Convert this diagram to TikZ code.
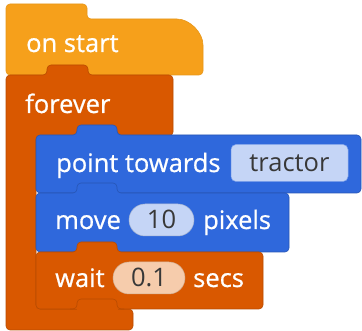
\documentclass[tikz,border=0pt]{standalone}
\usepackage{fontspec}
\setmainfont{Open Sans}
\newfontfamily\labelfont{Open Sans}[FakeBold=0.7]
\definecolor{hatorange}{HTML}{F6A01B}
\definecolor{loopred}{HTML}{D95800}
\definecolor{spriteblue}{HTML}{2F68DC}
\definecolor{fieldblue}{HTML}{C5D5F6}
\definecolor{fieldpeach}{HTML}{F6CCAC}
\definecolor{fieldtext}{HTML}{383838}
\usetikzlibrary{shapes.misc}
\tikzset{
  hatblock/.style={fill=hatorange, draw=hatorange!94!black, line width=0.6pt},
  loopblock/.style={fill=loopred, draw=loopred!85!black, line width=0.6pt},
  spriteblock/.style={fill=spriteblue, draw=spriteblue!82!black, line width=0.6pt},
  label/.style={inner sep=0pt, anchor=base west, text=white,
    font=\labelfont\fontsize{25.5}{30}\selectfont},
  field/.style={inner sep=0pt, text=fieldtext, text height=18pt, text depth=0pt,
    font=\fontsize{25.5}{30}\selectfont},
  dropfield/.style={field, fill=fieldblue, draw=spriteblue!60!white,
    line width=0.5pt, rounded corners=5pt},
  numpill/.style={field, rounded rectangle, fill=#1, draw=#1!85!black,
    line width=0.5pt},
}
% statement block: left x, top y, width, height (y grows downwards);
% the connector tab sits 41..81 from the left edge, 10 high
\newcommand\stmtblock[5]{%
  \filldraw[#5, rounded corners=4] (#1,#2+#4/2) -- (#1,#2) -- (#1+41,#2)
    -- (#1+41,#2-10) -- (#1+81,#2-10) -- (#1+81,#2) -- (#1+#3,#2)
    -- (#1+#3,#2+#4) -- (#1,#2+#4) -- cycle;}
\begin{document}
\begin{tikzpicture}[x=1pt, y=-1pt]
  \useasboundingbox (0,0) rectangle (362,331);

  % hat block "on start"
  \filldraw[hatblock, rounded corners=4] (6,40) -- (6,4) -- (87,4) -- (87,19)
    -- (173,19) arc[start angle=-90, end angle=0, radius=30]
    -- (203,75) -- (6,75) -- cycle;

  % C-shaped "forever" block
  \filldraw[loopblock, rounded corners=4] (6,200) -- (6,75) -- (47,75)
    -- (47,65) -- (88,65) -- (88,75) -- (173,75) -- (173,136) -- (36,136)
    -- (36,309) -- (133,309) -- (133,330) -- (6,330) -- cycle;

  % statements inside the loop
  \stmtblock{36}{135}{325}{58}{spriteblock}
  \stmtblock{36}{193}{253}{59}{spriteblock}
  \stmtblock{36}{252}{227}{57}{loopblock}

  % tab of the loop's closing arm
  \filldraw[loopblock, rounded corners=4] (70,309) -- (77,309) -- (77,299)
    -- (117,299) -- (117,309) -- (124,309);
  \fill[loopred] (76.5,309.4) rectangle (117.5,312);

  % labels
  \node[label] (onstart) at (26,52) {on start};
  \node[label] (forever) at (25,113) {forever};
  \node[label] (point) at (56,172) {point towards};
  \node[dropfield, minimum width=117pt, minimum height=37pt]
    (target) at (289.5,163) {tractor};
  \node[label] (move) at (55,229) {move};
  \node[numpill=fieldblue, minimum width=65pt, minimum height=32pt]
    (steps) at (161.5,220) {10};
  \node[label] (pixels) at (203,229) {pixels};
  \node[label] (wait) at (55,287) {wait};
  \node[numpill=fieldpeach, minimum width=72pt, minimum height=32pt]
    (delay) at (149,278) {0.1};
  \node[label] (secs) at (193,287) {secs};
\end{tikzpicture}
\end{document}
